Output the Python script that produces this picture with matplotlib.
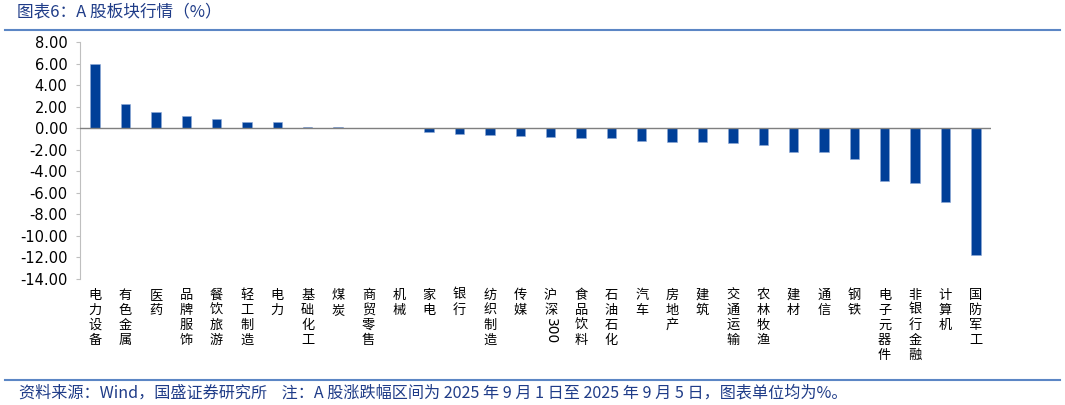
import numpy as np
import matplotlib.pyplot as plt

plt.rcParams['font.family'] = ['Noto Sans CJK SC', 'DejaVu Sans']
plt.rcParams['axes.unicode_minus'] = False

# sector names and weekly change (%)
sectors = ['电力设备', '有色金属', '医药', '品牌服饰', '餐饮旅游', '轻工制造', '电力',
           '基础化工', '煤炭', '商贸零售', '机械', '家电', '银行', '纺织制造', '传媒',
           '沪深300', '食品饮料', '石油石化', '汽车', '房地产', '建筑', '交通运输',
           '农林牧渔', '建材', '通信', '钢铁', '电子元器件', '非银行金融', '计算机', '国防军工']
changes = [5.93, 2.28, 1.51, 1.14, 0.83, 0.61, 0.55, 0.15, 0.12, 0.03, 0.01,
           -0.34, -0.56, -0.62, -0.68, -0.83, -0.87, -0.93, -1.15, -1.27, -1.30,
           -1.42, -1.52, -2.17, -2.23, -2.88, -4.91, -5.10, -6.86, -11.74]
yticks = np.arange(-14, 9, 2)

bar_col = '#003f98'
line_col = '#5b86c5'
text_col = '#1f3c88'

fig = plt.figure(figsize=(10.65, 4.05), dpi=100)
ax = fig.add_axes([0.0751, 0.3111, 0.8554, 0.5852])

x = np.arange(len(sectors))
ax.bar(x, changes, width=0.31, color=bar_col, edgecolor='#8fa9d6', linewidth=0.4, zorder=3)
ax.axhline(0, color='#7f7f7f', linewidth=1.0, zorder=4)

ax.set_xlim(-0.5, len(sectors) - 0.5)
ax.set_ylim(-14, 8)
ax.set_yticks(yticks)
ax.set_yticklabels(['%.2f' % v for v in yticks], fontsize=10.5, family='DejaVu Sans')
ax.tick_params(axis='y', direction='out', length=3, color='#bfbfbf', pad=6)
ax.set_xticks([])
for s in ['top', 'right', 'bottom']:
    ax.spines[s].set_visible(False)
ax.spines['left'].set_color('#bfbfbf')

# vertical stacked category labels under the axis
for i, name in enumerate(sectors):
    if name == '沪深300':
        ax.text(i, -14.9, '沪\n深', ha='center', va='top', fontsize=9.5,
                linespacing=1.2, clip_on=False)
        ax.text(i, -17.6, '300', ha='center', va='top', fontsize=10, rotation=-90,
                family='DejaVu Sans', clip_on=False)
    else:
        ax.text(i, -14.9, '\n'.join(name), ha='center', va='top', fontsize=9.5,
                linespacing=1.2, clip_on=False)

# header / footer
fig.text(0.016, 0.968, '图表6：A 股板块行情（%）', fontsize=12, color=text_col,
         ha='left', va='center')
fig.add_artist(plt.Line2D([0.005, 0.995], [0.926, 0.926], color=line_col, linewidth=1.5))
fig.add_artist(plt.Line2D([0.005, 0.995], [0.062, 0.062], color=line_col, linewidth=1.5))
fig.text(0.018, 0.030, '资料来源：Wind，国盛证券研究所    注：A 股涨跌幅区间为 2025 年 9 月 1 日至 2025 年 9 月 5 日，图表单位均为%。',
         fontsize=11.6, color=text_col, ha='left', va='center')

fig.savefig('out.png', dpi=100)
